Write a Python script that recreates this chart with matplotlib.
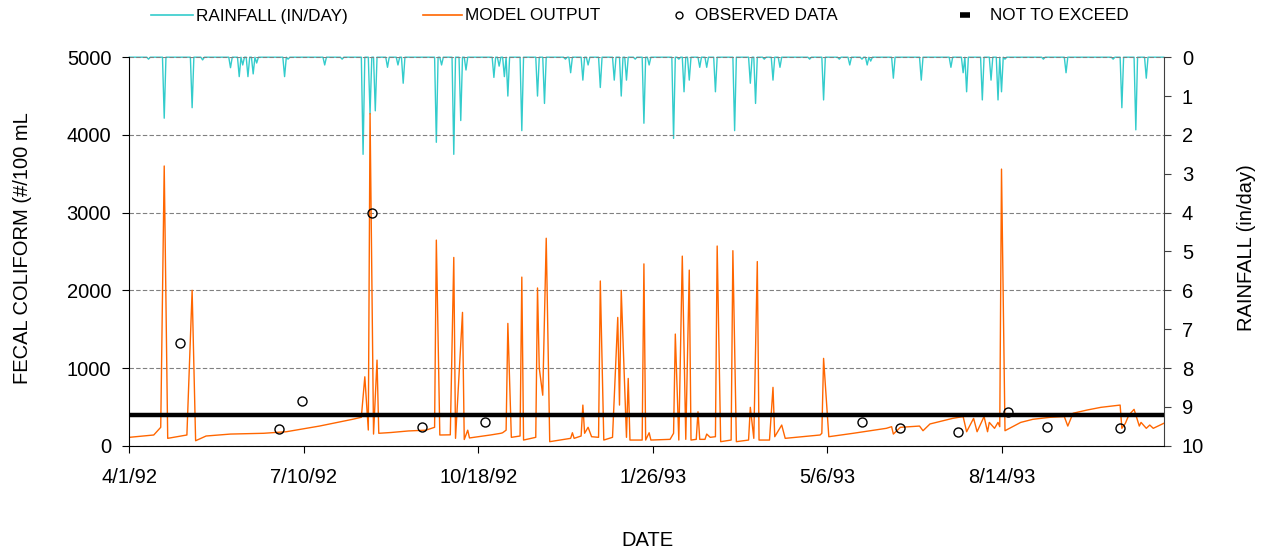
import numpy as np
import matplotlib
matplotlib.use("Agg")
import matplotlib.pyplot as plt
from matplotlib.lines import Line2D

plt.rcParams['font.family'] = ['Liberation Sans', 'DejaVu Sans']

# days since 4/1/92
tick_days = [0, 100, 200, 300, 400, 500]
tick_labels = ['4/1/92', '7/10/92', '10/18/92', '1/26/93', '5/6/93', '8/14/93']
n_days = 593

# rainfall events (in/day), zero on all other days
rain_days = [11, 20, 36, 42, 58, 63, 65, 68, 71, 73, 89, 91, 112, 122,
             134, 138, 141, 148, 154, 157, 176, 179, 186, 190, 193,
             209, 212, 215, 217, 225, 234, 238, 250, 253, 260, 263, 270,
             278, 282, 285, 290, 295, 298, 312, 315, 318, 321, 327, 331,
             336, 347, 356, 359, 364, 369, 373, 390, 398, 407, 413, 420,
             423, 425, 438, 454, 471, 478, 480, 489, 494, 498, 500, 502,
             524, 537, 564, 569, 577, 583]
rain_vals = [0.05, 1.57, 1.3, 0.07, 0.27, 0.5, 0.2, 0.5, 0.43, 0.15, 0.5, 0.05, 0.2, 0.05,
             2.5, 1.46, 1.38, 0.26, 0.2, 0.67, 2.19, 0.2, 2.5, 1.63, 0.33,
             0.52, 0.23, 0.5, 1.0, 1.89, 1.0, 1.19, 0.05, 0.4, 0.59, 0.2, 0.78,
             0.59, 1.0, 0.59, 0.05, 1.7, 0.2, 2.09, 0.05, 0.89, 0.59, 0.26, 0.26,
             0.89, 1.89, 0.67, 1.19, 0.05, 0.59, 0.26, 0.05, 1.1, 0.05, 0.2, 0.05,
             0.2, 0.1, 0.54, 0.59, 0.26, 0.4, 0.89, 1.1, 0.59, 1.1, 0.89, 0.05,
             0.05, 0.4, 0.05, 1.3, 1.87, 0.54]

# model output (#/100 mL)
model_days = [0, 14, 18, 20, 22, 33, 36, 38, 44, 58, 77, 90, 109, 128, 133, 135, 137, 138,
              140, 142, 143, 150, 160, 170, 175, 176, 178, 184, 186, 187, 191, 192, 194,
              195, 207, 213, 214, 216, 217, 219, 224, 225, 226, 233, 234, 235, 237, 239,
              241, 253, 254, 255, 259, 260, 261, 263, 265, 269, 270, 272, 277, 280, 281,
              282, 285, 286, 287, 294, 295, 296, 298, 299, 310, 312, 313, 315, 317, 319,
              321, 322, 325, 326, 327, 330, 331, 333, 336, 337, 339, 345, 346, 348, 355,
              356, 358, 360, 361, 367, 369, 370, 374, 376, 386, 396, 397, 398, 401, 415,
              434, 437, 438, 442, 453, 455, 459, 472, 478, 480, 484, 486, 490, 492, 493,
              496, 498, 499, 500, 502, 511, 518, 528, 536, 538, 541, 549, 557, 568, 569,
              571, 573, 576, 579, 580, 583, 585, 587, 593]
model_vals = [108, 138, 237, 3600, 95, 138, 2000, 64, 125, 150, 160, 180, 253, 340, 366, 887, 202, 4275,
              150, 1102, 160, 170, 190, 200, 237, 2646, 138, 140, 2423, 95, 1716, 80, 200,
              100, 138, 160, 167, 200, 1574, 108, 125, 2170, 73, 108, 2030, 1000, 650, 2670,
              52, 95, 167, 95, 125, 523, 160, 237, 116, 108, 2120, 73, 108, 1651, 523,
              2000, 108, 866, 73, 73, 2340, 73, 167, 73, 82, 160, 1437, 73, 2440, 82,
              2260, 73, 82, 437, 82, 82, 150, 108, 116, 2570, 52, 73, 2510, 52, 73,
              494, 95, 2370, 73, 73, 751, 116, 266, 95, 116, 138, 160, 1124, 116, 160,
              224, 245, 150, 237, 253, 193, 280, 352, 375, 180, 352, 180, 375, 180, 300,
              224, 300, 245, 3560, 193, 300, 340, 366, 375, 253, 418, 459, 494, 523, 224,
              288, 395, 468, 253, 300, 224, 266, 224, 288]

obs_days = [29, 86, 99, 139, 168, 204, 420, 442, 475, 504, 526, 568]
obs_vals = [1317, 211, 579, 3000, 245, 300, 305, 224, 172, 437, 240, 224]

not_to_exceed = 400

rain = np.zeros(n_days + 1)
rain[rain_days] = rain_vals

fig = plt.figure(figsize=(12.63, 5.5), dpi=100)
ax = fig.add_axes([0.1024, 0.1896, 0.8190, 0.7064])
ax2 = ax.twinx()
ax.set_zorder(ax2.get_zorder() + 1)
ax.patch.set_visible(False)

cyan = '#33CCCC'
orange = '#FF6600'

ax2.plot(np.arange(n_days + 1), rain, color=cyan, lw=1.0, clip_on=False)
ax.plot(model_days, model_vals, color=orange, lw=1.0)
ax.axhline(not_to_exceed, color='black', lw=3.2)
ax.plot(obs_days, obs_vals, 'o', mfc='none', mec='black', ms=6.5, mew=1.0)

ax.set_xlim(0, n_days)
ax.set_ylim(0, 5000)
ax.set_yticks(range(0, 5001, 1000))
ax.set_xticks(tick_days)
ax.set_xticklabels(tick_labels)
ax2.set_ylim(10, 0)
ax2.set_yticks(range(0, 11))

ax.grid(axis='y', color='#808080', ls=(0, (4, 2)), lw=0.8)
ax.set_axisbelow(True)

for a in (ax, ax2):
    a.spines['top'].set_visible(False)
ax.spines['left'].set_color('black')
ax.spines['bottom'].set_color('black')
ax.spines['right'].set_visible(False)
ax2.spines['left'].set_visible(False)
ax2.spines['bottom'].set_visible(False)
ax2.spines['right'].set_color('#404040')

ax.tick_params(axis='y', direction='out', length=5, pad=8, labelsize=14.5)
ax.tick_params(axis='x', direction='out', length=5, pad=11, labelsize=14.5)
ax2.tick_params(axis='y', direction='out', length=5, pad=8, labelsize=14.5, color='#404040')

fig.text(23 / 1263, 1 - 248 / 550, 'FECAL COLIFORM (#/100 mL', rotation=90,
         ha='center', va='center', fontsize=14.5)
fig.text(1246 / 1263, 1 - 248 / 550, 'RAINFALL (in/day)', rotation=90,
         ha='center', va='center', fontsize=14.5)
fig.text(647 / 1263, 1 - 540 / 550, 'DATE', ha='center', va='center', fontsize=14.5)

# legend: one entry per block so each sits where the original puts it
entries = [
    (Line2D([], [], color=cyan, lw=1.2), 'RAINFALL (IN/DAY)', 151, 2.46, 0.18),
    (Line2D([], [], color=orange, lw=1.2), 'MODEL OUTPUT', 423, 2.3, 0.18),
    (Line2D([], [], ls='none', marker='o', mfc='none', mec='black', ms=5, mew=1.0),
     'OBSERVED DATA', 669, 1.17, 0.35),
    (Line2D([], [], ls='none', marker='_', color='black', ms=7, mew=4),
     'NOT TO EXCEED', 955, 1.17, 0.88),
]
for h, lab, x0, hl, tp in entries:
    fig.legend([h], [lab], loc='center left', bbox_to_anchor=(x0 / 1263, 1 - 16 / 550),
               frameon=False, fontsize=12.3, handlelength=hl, handletextpad=tp,
               borderpad=0, borderaxespad=0)

fig.savefig('out.png', dpi=100)
